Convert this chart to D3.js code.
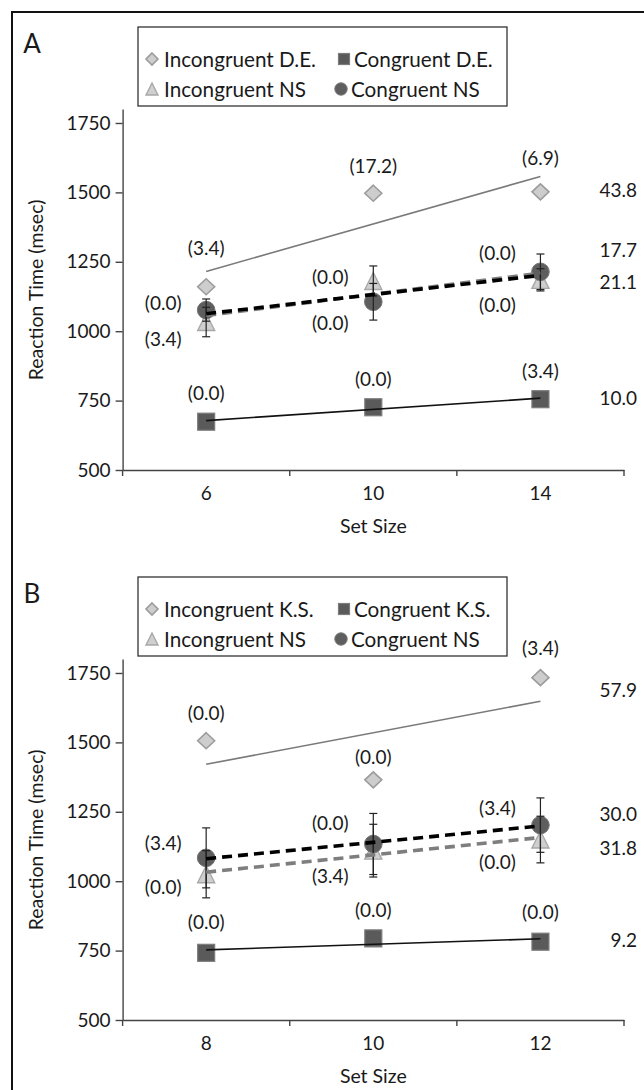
<!DOCTYPE html>
<html><head><meta charset="utf-8">
<script src="https://cdn.jsdelivr.net/npm/d3@7"></script>
<style>
body{margin:0;background:#fff}
text{font-family:Lato,"Open Sans",sans-serif;fill:#1a1a1a}
</style>
</head><body>
<svg id="c" width="644" height="1090"></svg>
<script>
// ---------- DATA ----------
const yTicks = [500, 750, 1000, 1250, 1500, 1750];

// Panel A
const setSizesA = [6, 10, 14];
const incDE_A = [1160, 1497, 1502];
const congDE_A = [674, 726, 755];
const incNS_A = [1033, 1181, 1185];
const congNS_A = [1076, 1106, 1214];
const incNS_errA = [53, 54, 40];
const congNS_errA = [40, 66, 64];
const incDE_lblA = ["(3.4)", "(17.2)", "(6.9)"];
const congDE_lblA = ["(0.0)", "(0.0)", "(3.4)"];
const incNS_lblA = ["(3.4)", "(0.0)", "(0.0)"];
const congNS_lblA = ["(0.0)", "(0.0)", "(0.0)"];
const slopesA = ["43.8", "10.0", "21.1", "17.7"]; // incDE, congDE, incNS, congNS
const legendA = ["Incongruent D.E.", "Congruent D.E.", "Incongruent NS", "Congruent NS"];

// Panel B
const setSizesB = [8, 10, 12];
const incKS_B = [1506, 1365, 1733];
const congKS_B = [742, 794, 782];
const incNS_B = [1025, 1110, 1150];
const congNS_B = [1084, 1134, 1202];
const incNS_errB = [85, 95, 84];
const congNS_errB = [108, 110, 98];
const incKS_lblB = ["(0.0)", "(0.0)", "(3.4)"];
const congKS_lblB = ["(0.0)", "(0.0)", "(0.0)"];
const incNS_lblB = ["(0.0)", "(3.4)", "(0.0)"];
const congNS_lblB = ["(3.4)", "(0.0)", "(3.4)"];
const slopesB = ["57.9", "9.2", "31.8", "30.0"];
const legendB = ["Incongruent K.S.", "Congruent K.S.", "Incongruent NS", "Congruent NS"];

// ---------- DRAW ----------
const svg = d3.select("#c");
svg.append("rect").attr("x", 12).attr("y", 12).attr("width", 660).attr("height", 1200)
  .attr("fill", "none").attr("stroke", "#111").attr("stroke-width", 2);

const diamondPath = (hw, hh) => `M0,${-hh}L${hw},0L0,${hh}L${-hw},0Z`;
const triPath = (h) => `M0,${-h}L${h},${h}L${-h},${h}Z`;

function marker(g, type, x, y, big) {
  if (type === "diamond") {
    g.append("path").attr("d", big ? diamondPath(8.5, 8) : diamondPath(6, 6))
      .attr("transform", `translate(${x},${y})`)
      .attr("fill", "#cdcdcd").attr("stroke", "#9c9c9c").attr("stroke-width", 1.6);
  } else if (type === "square") {
    const s = big ? 17 : 11;
    g.append("rect").attr("x", x - s / 2).attr("y", y - s / 2).attr("width", s).attr("height", s)
      .attr("fill", "#5a5a5a").attr("stroke", "#7c7c7c").attr("stroke-width", 1.2);
  } else if (type === "triangle") {
    g.append("path").attr("d", big ? triPath(8.5) : triPath(6))
      .attr("transform", `translate(${x},${y})`)
      .attr("fill", "#cfcfcf").attr("stroke", "#a8a8a8").attr("stroke-width", 1.4);
  } else {
    g.append("circle").attr("cx", x).attr("cy", y).attr("r", big ? 8.8 : 6.2)
      .attr("fill", "#5e5e5e").attr("stroke", "#747474").attr("stroke-width", 1);
  }
}

function fit(xs, ys) {
  const mx = d3.mean(xs), my = d3.mean(ys);
  const b = d3.sum(xs, (x, i) => (x - mx) * (ys[i] - my)) / d3.sum(xs, x => (x - mx) ** 2);
  return x => my + b * (x - mx);
}

function drawPanel(cfg) {
  const g = svg.append("g").attr("transform", `translate(0,${cfg.oy})`);
  const y = d3.scaleLinear().domain([500, 1800]).range([470, 109.1]);
  const x = d3.scaleBand().domain(cfg.sizes).range([122.6, 624]).padding(0);
  const cx = d => x(d) + x.bandwidth() / 2;

  // panel letter
  g.append("text").attr("x", 32).attr("y", 43).attr("text-anchor", "middle")
    .attr("dominant-baseline", "central").style("font-size", "26px").text(cfg.letter);

  // legend
  g.append("rect").attr("x", 138).attr("y", 27).attr("width", 369).attr("height", 79)
    .attr("fill", "#fff").attr("stroke", "#333").attr("stroke-width", 1.3);
  const legPos = [[152, 59, "diamond"], [344, 59, "square"], [152, 89, "triangle"], [341, 89, "circle"]];
  legPos.forEach((p, i) => {
    marker(g, p[2], p[0], p[1], false);
    g.append("text").attr("x", p[0] + (i % 2 ? 10 : 12)).attr("y", p[1]).attr("dominant-baseline", "central")
      .style("font-size", "20.7px").text(cfg.legend[i]);
  });

  // axes
  const ya = g.append("g").attr("transform", "translate(122.6,0)")
    .call(d3.axisLeft(y).tickValues(yTicks).tickFormat(d3.format("d")).tickSize(7).tickPadding(5).tickSizeOuter(0));
  ya.select(".domain").attr("stroke", "#444").attr("stroke-width", 1.4);
  ya.selectAll(".tick line").attr("stroke", "#444").attr("stroke-width", 1.4);
  ya.selectAll(".tick text").style("font-size", "19px").style("font-family", "Lato").attr("fill", "#1a1a1a");

  const xa = g.append("g").attr("transform", "translate(0,470)")
    .call(d3.axisBottom(x).tickSize(0).tickPadding(17));
  xa.select(".domain").attr("stroke", "#444").attr("stroke-width", 1.4);
  xa.selectAll(".tick text").style("font-size", "19px").style("font-family", "Lato").attr("fill", "#1a1a1a");
  const bounds = cfg.sizes.map(d => x(d)).concat([x.range()[1]]);
  xa.selectAll(".bt").data(bounds).enter().append("line")
    .attr("x1", d => d).attr("x2", d => d).attr("y1", 0).attr("y2", 6)
    .attr("stroke", "#444").attr("stroke-width", 1.4);

  g.append("text").attr("x", cx(cfg.sizes[1])).attr("y", 525).attr("text-anchor", "middle")
    .attr("dominant-baseline", "central").style("font-size", "19.5px").text("Set Size");
  g.append("text").attr("transform", "translate(35,290) rotate(-90)").attr("text-anchor", "middle")
    .attr("dominant-baseline", "central").style("font-size", "19.5px").text("Reaction Time (msec)");

  const series = cfg.series;
  // markers
  series.forEach(s => {
    s.vals.forEach((v, i) => marker(g, s.type, cx(cfg.sizes[i]), y(v), true));
  });
  // error bars
  series.forEach(s => {
    if (!s.err) return;
    s.vals.forEach((v, i) => {
      const px = cx(cfg.sizes[i]);
      const lo = y(v - s.err[i]), hi = y(v + s.err[i]);
      g.append("line").attr("x1", px).attr("x2", px).attr("y1", lo).attr("y2", hi)
        .attr("stroke", "#222").attr("stroke-width", 1.2);
      [lo, hi].forEach(yy => g.append("line").attr("x1", px - 4).attr("x2", px + 4)
        .attr("y1", yy).attr("y2", yy).attr("stroke", "#222").attr("stroke-width", 1.2));
    });
  });
  // trend lines
  series.forEach(s => {
    const f = fit(cfg.sizes, s.vals);
    const x0 = cfg.sizes[0], x1 = cfg.sizes[cfg.sizes.length - 1];
    g.append("line").attr("x1", cx(x0)).attr("x2", cx(x1)).attr("y1", y(f(x0))).attr("y2", y(f(x1)))
      .attr("stroke", s.tc).attr("stroke-width", s.tw).attr("stroke-dasharray", s.dash || null);
  });
  // data labels
  series.forEach(s => {
    s.vals.forEach((v, i) => {
      g.append("text").attr("x", cx(cfg.sizes[i]) + s.off[i][0]).attr("y", y(v) + s.off[i][1])
        .attr("text-anchor", "middle").attr("dominant-baseline", "central")
        .style("font-size", "19px").text(s.lbl[i]);
    });
    const last = s.vals.length - 1;
    g.append("text").attr("x", 637).attr("y", y(s.vals[last]) + s.sdy)
      .attr("text-anchor", "end").attr("dominant-baseline", "central")
      .style("font-size", "19px").text(s.slope);
  });
}

drawPanel({
  letter: "A", oy: 0, sizes: setSizesA, legend: legendA,
  series: [
    {type: "diamond", vals: incDE_A, lbl: incDE_lblA, tc: "#7a7a7a", tw: 1.6,
     off: [[0, -39], [0, -28], [0, -34]], slope: slopesA[0], sdy: -2},
    {type: "square", vals: congDE_A, lbl: congDE_lblA, tc: "#111", tw: 1.6,
     off: [[0, -29], [0, -29], [0, -29]], slope: slopesA[1], sdy: -2},
    {type: "triangle", vals: incNS_A, err: incNS_errA, lbl: incNS_lblA, tc: "#7e7e7e", tw: 3.6, dash: "10,6",
     off: [[-43, 16], [-43, -4], [-43, 25]], slope: slopesA[2], sdy: 2},
    {type: "circle", vals: congNS_A, err: congNS_errA, lbl: congNS_lblA, tc: "#000", tw: 3.6, dash: "10,6",
     off: [[-43, -8], [-43, 21], [-43, -19]], slope: slopesA[3], sdy: -22}
  ]
});

drawPanel({
  letter: "B", oy: 550, sizes: setSizesB, legend: legendB,
  series: [
    {type: "diamond", vals: incKS_B, lbl: incKS_lblB, tc: "#7a7a7a", tw: 1.6,
     off: [[0, -28], [0, -23], [0, -30]], slope: slopesB[0], sdy: 12},
    {type: "square", vals: congKS_B, lbl: congKS_lblB, tc: "#111", tw: 1.6,
     off: [[0, -31], [0, -29], [0, -30]], slope: slopesB[1], sdy: -2},
    {type: "triangle", vals: incNS_B, err: incNS_errB, lbl: incNS_lblB, tc: "#7e7e7e", tw: 3.6, dash: "10,6",
     off: [[-43, 12], [-43, 25], [-43, 22]], slope: slopesB[2], sdy: 8},
    {type: "circle", vals: congNS_B, err: congNS_errB, lbl: congNS_lblB, tc: "#000", tw: 3.6, dash: "10,6",
     off: [[-43, -15], [-43, -21], [-43, -18]], slope: slopesB[3], sdy: -12}
  ]
});
</script>
</body></html>
